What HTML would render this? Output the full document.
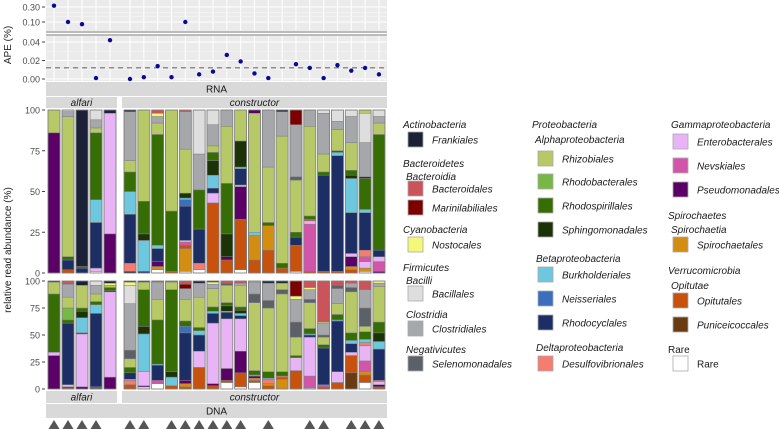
<!DOCTYPE html>
<html><head><meta charset="utf-8"><style>
body{margin:0;background:#fff;}
svg{display:block;font-family:"Liberation Sans",sans-serif;}
</style></head><body>
<svg id="chart" width="779" height="429" viewBox="0 0 779 429"></svg>
<script>
const taxa=["Fr","Bd","Ma","No","Ba","Cl","Se","Rz","Rb","Rs","Sp","Bu","Ne","Rc","De","En","Nv","Ps","Sc","Op","Pu","Ra"];
const taxonColors={Fr:"#1b2237",Bd:"#c9545a",Ma:"#7d0000",No:"#f3f77a",Ba:"#dedede",Cl:"#a6a7ab",Se:"#5c6167",Rz:"#b6c966",Rb:"#77b744",Rs:"#376d05",Sp:"#1c3207",Bu:"#6cc7df",Ne:"#3b6fbd",Rc:"#1c2e64",De:"#f57c70",En:"#e8b4f6",Nv:"#d156a9",Ps:"#5b0066",Sc:"#d38e12",Op:"#c6520d",Pu:"#6a3b12",Ra:"#ffffff"};
const sampleGroups=["alfari","alfari","alfari","alfari","alfari","constructor","constructor","constructor","constructor","constructor","constructor","constructor","constructor","constructor","constructor","constructor","constructor","constructor","constructor","constructor","constructor","constructor","constructor","constructor"];
const apeValues=[0.33,0.10,0.085,0.001,0.042,0.000,0.002,0.014,0.002,0.10,0.005,0.008,0.026,0.019,0.006,0.001,null,0.016,0.012,0.001,0.015,0.009,0.012,0.005];
const apeThreshold=0.012;
const rnaBars=[
[["Ps",86],["Rz",100]],
[["Op",2],["Rc",8],["Rs",10],["Rz",96],["Cl",99],["Ba",100]],
[["Rc",3],["Rs",4],["Fr",100]],
[["Ra",1],["En",3],["Rc",31],["Bu",45],["Rs",86],["Rz",89],["Cl",94],["Ba",100]],
[["Ps",24],["En",98],["Fr",100]],
[["Fr",1],["De",6],["Rc",36],["Bu",50],["Rs",62],["Rz",69],["Cl",99],["Fr",100]],
[["Rc",1],["Bu",20],["Sp",24],["Rs",44],["Rz",100]],
[["Ra",2],["Sc",4],["Ps",7],["Rc",15],["Bu",17],["Rs",85],["Rz",92],["Cl",96],["No",98],["Bd",100]],
[["Op",1],["Rs",38],["Rz",100]],
[["Ra",1],["Sc",15],["Op",17],["Nv",19],["En",20],["Rc",41],["Ne",45],["Bu",46],["Sp",49],["Rz",76],["Cl",99],["Bd",100]],
[["Ra",2],["De",6],["Rc",27],["Rs",51],["Cl",73],["Ba",100]],
[["Op",43],["En",49],["Rc",52],["Bu",60],["Sp",69],["Rs",74],["Rz",78],["Cl",91],["Ba",100]],
[["Op",8],["Ps",10],["Sp",24],["Rs",55],["Rz",90],["Cl",100]],
[["Ra",2],["Op",33],["Ps",53],["En",54],["Rc",64],["Bu",65],["Sp",81],["Rz",100]],
[["Op",8],["Sc",23],["Bu",25],["Rz",98],["Ps",100]],
[["Op",14],["Sc",29],["Rs",31],["Rz",65],["Cl",100]],
[["Op",3],["Rs",6],["Rz",84],["Cl",99],["Fr",100]],
[["Ra",1],["Op",17],["Rc",22],["Rs",25],["Rz",57],["Se",59],["Cl",91],["Ma",100]],
[["Op",1],["Nv",30],["En",32],["Bd",33],["Rs",35],["Rz",90],["Cl",100]],
[["Op",1],["Rc",60],["Rs",62],["Rz",73],["Cl",98],["Ba",100]],
[["Op",1],["Rc",72],["Bu",74],["Rs",75],["Rz",88],["Cl",93],["Ba",100]],
[["Op",2],["Sc",4],["Ps",10],["En",12],["Rc",37],["Bu",58],["Sp",60],["Rs",63],["Rz",80],["Cl",96],["Ba",100]],
[["Ra",1],["Sc",3],["En",7],["Nv",10],["De",14],["Rc",37],["Bu",39],["Rs",58],["Sp",59],["Cl",80],["Ba",98],["Rz",100]],
[["Ps",1],["Nv",7],["En",10],["Rc",14],["Rs",85],["Rz",92],["Cl",96],["Ba",100]]
];
const dnaBars=[
[["Ps",31],["En",34],["Rs",88],["Rz",99],["Fr",100]],
[["Op",1],["Ps",2],["En",4],["Rc",61],["Rs",64],["Rb",75],["Rz",85],["Cl",97],["Bd",100]],
[["Ps",2],["En",51],["Rc",52],["Bu",66],["Sp",72],["Rs",75],["Rz",96],["Fr",100]],
[["Se",2],["Rc",70],["Bu",78],["Rs",81],["Rz",88],["Cl",96],["Ba",100]],
[["Ps",11],["En",90],["Fr",91],["Rs",94],["Rz",96],["No",98],["Fr",100]],
[["Op",4],["De",8],["En",9],["Rc",15],["Rs",20],["Rz",28],["Se",36],["Cl",79],["Ba",96],["No",99],["Fr",100]],
[["Ba",2],["Ps",3],["En",16],["Bu",51],["Sp",58],["Rs",92],["Rz",99],["Fr",100]],
[["Ra",5],["Nv",8],["Rc",22],["Bu",23],["Rs",64],["Rz",83],["Cl",99],["Bd",100]],
[["Op",3],["Bu",11],["Sp",16],["Rs",92],["Rz",99],["Bd",100]],
[["Op",2],["Sc",5],["Ps",8],["Rc",52],["Ne",58],["Rs",63],["Rz",83],["Cl",93],["Ma",97],["Bd",100]],
[["Op",20],["En",35],["Rc",50],["Bu",54],["Rs",57],["Rz",85],["Cl",98],["Fr",100]],
[["Op",3],["Ps",5],["En",61],["Rc",70],["Bu",72],["Rs",76],["Rz",93],["Cl",97],["No",99],["Fr",100]],
[["Ra",6],["Op",8],["Ps",19],["En",65],["Rc",71],["Bu",72],["Sp",77],["Rs",80],["Rz",96],["Se",98],["Bd",100]],
[["Ra",2],["Op",15],["Ps",35],["En",65],["Rc",68],["Bu",70],["Sp",73],["Rs",76],["Rz",96],["Cl",98],["Bd",100]],
[["Ra",6],["Op",8],["Sc",10],["Ps",12],["Bu",13],["Rs",17],["Rz",80],["Se",88],["Cl",99],["Rz",100]],
[["Op",3],["Sc",5],["De",9],["Bu",10],["Rs",16],["Rz",75],["Se",82],["Cl",98],["Fr",100]],
[["Sc",9],["Op",11],["De",12],["Rs",16],["Rz",88],["Se",92],["Rz",98],["Fr",100]],
[["Op",17],["En",29],["Rs",31],["Rz",48],["Se",62],["Cl",83],["No",86],["Ma",100]],
[["Ra",1],["Nv",12],["En",48],["Rc",50],["Bu",51],["Rs",56],["Rz",80],["Se",83],["Cl",92],["No",94],["Bd",100]],
[["Op",2],["Nv",4],["Rc",38],["Rs",41],["Rz",48],["Se",50],["Cl",61],["No",62],["Bd",100]],
[["Op",6],["En",16],["Rc",63],["Bu",64],["Rs",69],["Rz",79],["Cl",93],["Se",96],["Bd",100]],
[["Pu",15],["Op",31],["En",34],["Rc",42],["Bu",45],["Rs",52],["Rz",90],["Se",94],["Cl",98],["Bd",100]],
[["Ra",6],["Op",13],["Sc",16],["Nv",26],["En",40],["De",43],["Bu",46],["Rs",53],["Rz",58],["Se",75],["Cl",92],["Bd",100]],
[["Op",2],["Ps",4],["En",7],["De",8],["Rc",37],["Bu",44],["Sp",52],["Rs",62],["Rz",95],["Cl",98],["No",100]]
];
const triangleSamples=[0,1,2,3,5,6,8,9,10,11,12,13,15,18,19,21,22,23];
const abundanceTicks=[0,25,50,75,100];
const apeTicksUpper=[0.10,0.30];
const apeTicksLower=[0.00,0.02,0.04];

const NS="http://www.w3.org/2000/svg";
const svg=document.getElementById("chart");
function mk(tag,attrs,parent){const e=document.createElementNS(NS,tag);for(const k in attrs)e.setAttribute(k,attrs[k]);(parent||svg).appendChild(e);return e;}
function txt(s,attrs,parent){const e=mk("text",attrs,parent);e.textContent=s;return e;}

// x axis
function xPos(i){return i<5?54+14*i:130+(i-5)*13.83;}
const yRna=p=>273-1.63*p;
const yDna=p=>389-1.08*p;
const yApeUp=v=>22-31.4*Math.log10(v/0.10);
const yApeLow=v=>79-925*v;

// APE panel
const apeG=mk("g",{});


mk("rect",{x:46,y:0,width:341,height:31,fill:"#ebebeb"},apeG);
mk("rect",{x:46,y:36,width:341,height:45,fill:"#ebebeb"},apeG);
for(let i=0;i<24;i++){const x=xPos(i);mk("line",{x1:x,x2:x,y1:0,y2:31,stroke:"#fff","stroke-width":1},apeG);mk("line",{x1:x,x2:x,y1:36,y2:81,stroke:"#fff","stroke-width":1},apeG);}
[0.2,0.15].forEach(v=>{const y=yApeUp(v);mk("line",{x1:46,x2:387,y1:y,y2:y,stroke:"#f7f7f7","stroke-width":0.6},apeG);});
apeTicksUpper.forEach(v=>{const y=yApeUp(v);mk("line",{x1:46,x2:387,y1:y,y2:y,stroke:"#fff","stroke-width":1},apeG);
 mk("line",{x1:42,x2:45,y1:y,y2:y,stroke:"#444"},apeG);
 const t=txt(v.toFixed(2),{x:40,y:y+3.5,"font-size":9,fill:"#4d4d4d","text-anchor":"end"},apeG);});
[0.01,0.03].forEach(v=>{const y=yApeLow(v);mk("line",{x1:46,x2:387,y1:y,y2:y,stroke:"#f7f7f7","stroke-width":0.6},apeG);});
apeTicksLower.forEach(v=>{const y=yApeLow(v);mk("line",{x1:46,x2:387,y1:y,y2:y,stroke:"#fff","stroke-width":1},apeG);
 mk("line",{x1:42,x2:45,y1:y,y2:y,stroke:"#444"},apeG);
 const t=txt(v.toFixed(2),{x:40,y:y+3.5,"font-size":9,fill:"#4d4d4d","text-anchor":"end"},apeG);});
mk("line",{x1:46,x2:387,y1:32,y2:32,stroke:"#777","stroke-width":1},apeG);
mk("line",{x1:46,x2:387,y1:35,y2:35,stroke:"#777","stroke-width":1},apeG);
const thr=mk("line",{x1:46,x2:387,y1:yApeLow(apeThreshold),y2:yApeLow(apeThreshold),stroke:"#333","stroke-width":0.8,"stroke-dasharray":"5,4"},apeG);

apeValues.forEach((v,i)=>{if(v===null)return;const y=v>=0.07?yApeUp(v):yApeLow(v);
 const c=mk("circle",{cx:xPos(i),cy:y,r:2.2,fill:"#0a0a96"},apeG);
 
 });
const apeTitle=txt("APE (%)",{x:0,y:0,"font-size":10,fill:"#222","text-anchor":"middle",transform:"translate(11,45) rotate(-90)"});


// strips
function strip(x,y,w,h,label,italic,name){const r=mk("rect",{x:x,y:y,width:w,height:h,fill:"#d9d9d9"});
 const t=txt(label,{x:x+w/2,y:y+h/2+3.5,"font-size":10,fill:"#1a1a1a","text-anchor":"middle","font-style":italic?"italic":"normal"});}
strip(46,82,341,14,"RNA",false,"rna-strip");
strip(46,97,71,11,"alfari",true,"rna-alfari-strip");
strip(122,97,265,11,"constructor",true,"rna-constructor-strip");
strip(46,391,71,12,"alfari",true,"dna-alfari-strip");
strip(122,391,265,12,"constructor",true,"dna-constructor-strip");
strip(46,404,341,14,"DNA",false,"dna-strip");

// bars
function drawBars(data,yf,panel){
 const g=mk("g",{});
 data.forEach((bar,i)=>{let prev=0;const x=xPos(i)-6;
  bar.forEach(seg=>{const y1=yf(seg[1]),y0=yf(prev);
   const r=mk("rect",{x:x,y:y1,width:12,height:Math.max(0,y0-y1),fill:taxonColors[seg[0]],stroke:"#7f7f7f","stroke-width":0.5},g);
   
   
   prev=seg[1];});
  mk("rect",{x:x,y:yf(100),width:12,height:yf(0)-yf(100),fill:"none",stroke:"#7f7f7f","stroke-width":0.8},g);});
 abundanceTicks.forEach(v=>{const y=yf(v);mk("line",{x1:42,x2:45,y1:y,y2:y,stroke:"#444"});
  const t=txt(String(v),{x:40,y:y+3.5,"font-size":9,fill:"#4d4d4d","text-anchor":"end"});});
}
drawBars(rnaBars,yRna,"rna");
drawBars(dnaBars,yDna,"dna");
const yt=txt("relative read abundance (%)",{x:0,y:0,"font-size":10,fill:"#222","text-anchor":"middle",transform:"translate(11,250) rotate(-90)"});


triangleSamples.forEach(i=>{const x=xPos(i);
 const p=mk("polygon",{points:(x-5.5)+",429 "+(x+5.5)+",429 "+x+",420",fill:"#555"});
 
 });

// legend
const legendHeaders=[["Actinobacteria",403,128],["Bacteroidetes",403,167],["Bacteroidia",406,180],["Cyanobacteria",403,233],["Firmicutes",403,271],["Bacilli",406,284],["Clostridia",406,318],["Negativicutes",406,353],
["Proteobacteria",532,128],["Alphaproteobacteria",535,143],["Betaproteobacteria",536,262],["Deltaproteobacteria",536,351],
["Gammaproteobacteria",671,128],["Spirochaetes",668,219],["Spirochaetia",671,233],["Verrucomicrobia",668,274],["Opitutae",671,289],["Rare",668,353]];
const legendItems=[["Frankiales","Fr",403,143],["Bacteroidales","Bd",403,192],["Marinilabiliales","Ma",403,211],["Nostocales","No",403,248],["Bacillales","Ba",403,297],["Clostridiales","Cl",403,332],["Selenomonadales","Se",403,367],
["Rhizobiales","Rz",533,162],["Rhodobacterales","Rb",533,185],["Rhodospirillales","Rs",533,209],["Sphingomonadales","Sp",533,233],["Burkholderiales","Bu",533,278],["Neisseriales","Ne",533,302],["Rhodocyclales","Rc",533,326],["Desulfovibrionales","De",533,367],
["Enterobacterales","En",668,145],["Nevskiales","Nv",668,169],["Pseudomonadales","Ps",668,193],["Spirochaetales","Sc",668,248],["Opitutales","Op",668,304],["Puniceicoccales","Pu",668,328],["Rare","Ra",668,367]];
legendHeaders.forEach(h=>{const t=txt(h[0],{x:h[1],y:h[2],"font-size":10,fill:"#1a1a1a","font-style":h[0]==="Rare"?"normal":"italic"});});
legendItems.forEach(it=>{const g=mk("g",{});
 
 
 mk("rect",{x:it[2]+5,y:it[3]-11,width:15,height:15,fill:taxonColors[it[1]],stroke:"#aaa","stroke-width":0.8},g);
 txt(it[0],{x:it[2]+29,y:it[3]+0.5,"font-size":10,fill:"#1a1a1a","font-style":it[0]==="Rare"?"normal":"italic"},g);});
</script>
</body></html>
